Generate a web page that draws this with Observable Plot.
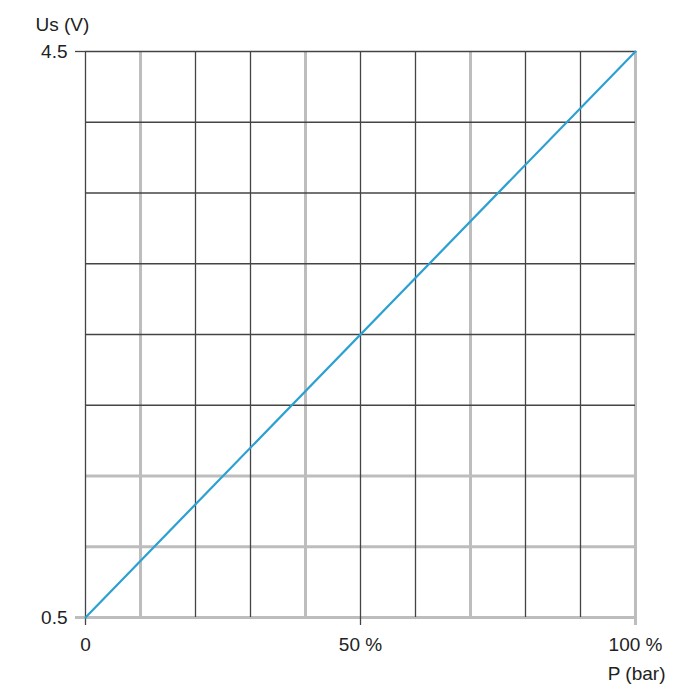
<!DOCTYPE html>
<html>
<head>
<meta charset="utf-8">
<script src="https://cdn.jsdelivr.net/npm/d3@7"></script>
<script src="https://cdn.jsdelivr.net/npm/@observablehq/plot@0.6"></script>
<style>
  html, body { margin: 0; padding: 0; background: #fff; }
  #chart { width: 700px; height: 700px; }
</style>
</head>
<body>
<div id="chart"></div>
<script>
// Data
const pressurePct = [0, 100];          // P (% of range)
const voltage = [0.5, 4.5];            // Us (V)
const xGridDark = [0, 20, 30, 50, 60, 80, 90];
const xGridLight = [10, 40, 70, 100];
const yGridDark = [2.0, 2.5, 3.0, 3.5, 4.0, 4.5];
const yGridLight = [0.5, 1.0, 1.5];
const xTickValues = [0, 50, 100];
const xTickLabels = ["0", "50 %", "100 %"];
const yTickValues = [0.5, 4.5];
const yTickLabels = ["0.5", "4.5"];
const xTitle = "P (bar)";
const yTitle = "Us (V)";

const lineData = pressurePct.map((p, i) => ({p, v: voltage[i]}));

const font = "'Liberation Sans', Arial, sans-serif";
const dark = "#444";
const light = "#bdbdbd";
const xFmt = (d) => xTickLabels[xTickValues.indexOf(d)];
const yFmt = (d) => yTickLabels[yTickValues.indexOf(d)];

const chart = Plot.plot({
  width: 700,
  height: 700,
  marginLeft: 85,
  marginRight: 65,
  marginTop: 51,
  marginBottom: 83,
  style: {fontFamily: font, fontSize: "19px", color: "#222", background: "#fff"},
  x: {domain: [0, 100]},
  y: {domain: [0.5, 4.5]},
  marks: [
    Plot.ruleX(xGridLight, {stroke: light, strokeWidth: 3}),
    Plot.ruleY(yGridLight, {stroke: light, strokeWidth: 3}),
    Plot.ruleX(xGridDark, {stroke: dark, strokeWidth: 1.3}),
    Plot.ruleY(yGridDark, {stroke: dark, strokeWidth: 1.3}),
    Plot.axisX({
      ticks: xTickValues.filter((d) => xGridLight.includes(d)),
      tickFormat: xFmt, tickSize: 8, tickPadding: 12,
      stroke: light, strokeWidth: 3, fontSize: 19, fill: "#222", label: null
    }),
    Plot.axisX({
      ticks: xTickValues.filter((d) => !xGridLight.includes(d)),
      tickFormat: xFmt, tickSize: 8, tickPadding: 12,
      stroke: dark, strokeWidth: 1.3, fontSize: 19, fill: "#222", label: null
    }),
    Plot.axisY({
      ticks: yTickValues.filter((d) => yGridLight.includes(d)),
      tickFormat: yFmt, tickSize: 10, tickPadding: 8,
      stroke: light, strokeWidth: 3, fontSize: 19, fill: "#222", label: null
    }),
    Plot.axisY({
      ticks: yTickValues.filter((d) => !yGridLight.includes(d)),
      tickFormat: yFmt, tickSize: 10, tickPadding: 8,
      stroke: dark, strokeWidth: 1.3, fontSize: 19, fill: "#222", label: null
    }),
    Plot.line(lineData, {x: "p", y: "v", stroke: "#2ba0d2", strokeWidth: 2.2}),
    Plot.text([xTitle], {frameAnchor: "bottom-right", dx: 30, dy: 62, fontSize: 19, fill: "#222", textAnchor: "end"}),
    Plot.text([yTitle], {frameAnchor: "top-left", dx: -50, dy: -34, fontSize: 19, fill: "#222", textAnchor: "start"})
  ]
});

document.getElementById("chart").appendChild(chart);
</script>
</body>
</html>
